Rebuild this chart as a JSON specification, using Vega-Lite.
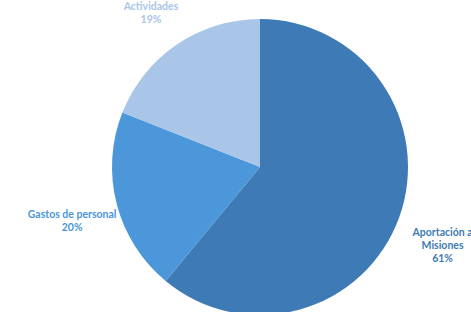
{
  "$schema": "https://vega.github.io/schema/vega-lite/v6.json",
  "width": 296,
  "height": 296,
  "autosize": {"type": "none"},
  "padding": {"left": 112, "top": 19, "right": 63, "bottom": 0},
  "background": "white",
  "data": {
    "values": [
      {"categoria": "Aportación a Misiones", "valor": 61, "etiqueta": "Aportación a\nMisiones\n61%"},
      {"categoria": "Gastos de personal", "valor": 20, "etiqueta": "Gastos de personal\n20%"},
      {"categoria": "Actividades", "valor": 19, "etiqueta": "Actividades\n19%"}
    ]
  },
  "encoding": {
    "theta": {"field": "valor", "type": "quantitative", "stack": true},
    "order": {"field": "valor", "type": "quantitative", "sort": "descending"},
    "color": {
      "field": "categoria",
      "type": "nominal",
      "scale": {
        "domain": ["Aportación a Misiones", "Gastos de personal", "Actividades"],
        "range": ["#3e7bb6", "#4b97d9", "#a9c5e8"]
      },
      "legend": null
    }
  },
  "layer": [
    {"mark": {"type": "arc", "stroke": null}},
    {
      "mark": {
        "type": "text",
        "radius": 194,
        "font": "Lato",
        "fontWeight": "bold",
        "fontSize": 10.5,
        "lineBreak": "\n",
        "lineHeight": 13,
        "align": "center",
        "baseline": "middle"
      },
      "encoding": {"text": {"field": "etiqueta"}}
    }
  ],
  "config": {"view": {"stroke": null}}
}
